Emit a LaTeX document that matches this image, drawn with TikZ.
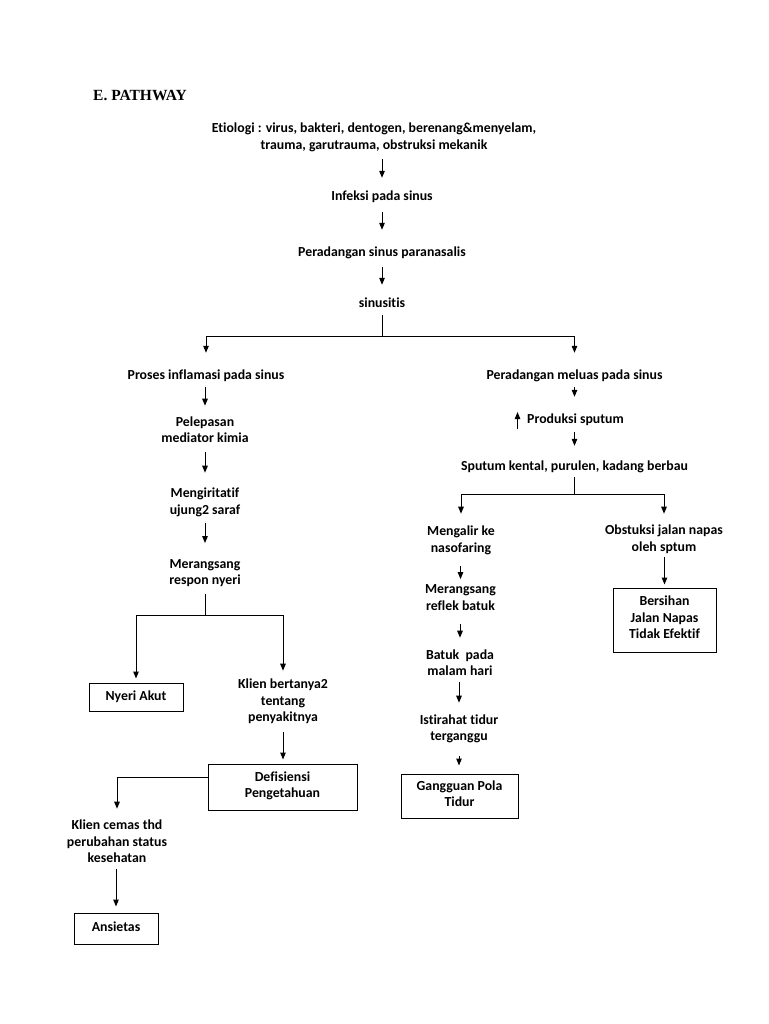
\documentclass[tikz,border=0pt]{standalone}
\usepackage{fontspec}
\setmainfont{Carlito}[Ligatures=NoCommon,RawFeature=-liga]
\newfontfamily\titlefont{Liberation Serif}
\usetikzlibrary{arrows.meta}
\begin{document}
\begin{tikzpicture}[x=1pt,y=-1pt,
  txt/.style={font=\bfseries\fontsize{13.8}{16.5}\selectfont, align=center, inner sep=0pt,
    execute at begin node=\strut, execute at end node=\strut},
  boxn/.style={txt, draw, line width=1pt},
  arr/.style={line width=1pt, -{Triangle[length=7pt,width=5.5pt]}},
  titlestyle/.style={font=\titlefont\bfseries\fontsize{15.5}{18}\selectfont, inner sep=0pt}]
\useasboundingbox (0,0) rectangle (768,1024);

% title
\node[titlestyle, anchor=west] (title) at (93,96) {E. PATHWAY};

% main column
\node[txt] (eti) at (374,138.5) {Etiologi : virus, bakteri, dentogen, berenang\&menyelam,\\trauma, garutrauma, obstruksi mekanik};
\node[txt] (inf) at (382,197) {Infeksi pada sinus};
\node[txt] (per) at (382,253) {Peradangan sinus paranasalis};
\node[txt] (sin) at (382,304) {sinusitis};
\coordinate (j1) at (382,336);

% left column
\node[txt] (pro) at (206,376) {Proses inflamasi pada sinus};
\node[txt] (pel) at (205,432) {Pelepasan\\mediator kimia};
\node[txt] (men) at (205,503.5) {Mengiritatif\\ujung2 saraf};
\node[txt] (mer) at (205,574.5) {Merangsang\\respon nyeri};
\coordinate (j2) at (205,615);
\node[boxn, minimum width=94pt, minimum height=28pt] (nye) at (136,697) {Nyeri Akut};
\node[txt] (kli) at (283,703) {Klien bertanya2\\tentang\\penyakitnya};
\node[boxn, minimum width=149pt, minimum height=46pt] (def) at (282.5,787) {Defisiensi\\Pengetahuan};
\node[txt] (cem) at (117,844) {Klien cemas thd\\perubahan status\\kesehatan};
\node[boxn, minimum width=84pt, minimum height=31pt] (ans) at (116,928.5) {Ansietas};

% right column
\node[txt] (mel) at (574.5,376) {Peradangan meluas pada sinus};
\node[txt] (prd) at (575.5,420) {Produksi sputum};
\node[txt] (spu) at (574.5,467) {Sputum kental, purulen, kadang berbau};
\coordinate (j3) at (574.5,494);
\node[txt] (mga) at (461,541.5) {Mengalir ke\\nasofaring};
\node[txt] (obs) at (664,540.5) {Obstuksi jalan napas\\oleh sptum};
\node[txt] (mrg) at (460.5,600) {Merangsang\\reflek batuk};
\node[txt] (bat) at (460,665) {Batuk\ \ pada\\malam hari};
\node[txt] (ist) at (459,730) {Istirahat tidur\\terganggu};
\node[boxn, minimum width=117pt, minimum height=44pt] (gan) at (459.5,796) {Gangguan Pola\\Tidur};
\node[boxn, minimum width=103pt, minimum height=64pt] (ber) at (664.5,620) {Bersihan\\Jalan Napas\\Tidak Efektif};

% up arrow before "Produksi sputum"
\draw[arr] ([xshift=-9.5pt,yshift=-1pt]prd.south west) -- ([xshift=-9.5pt,yshift=-0.5pt]prd.north west);

% connectors main
\draw[arr, shorten <=5pt, shorten >=10.75pt] (eti.south -| inf.north) -- (inf.north);
\draw[arr, shorten <=6.75pt, shorten >=14.75pt] (inf.south) -- (per.north);
\draw[arr, shorten <=5.75pt, shorten >=10.75pt] (per.south) -- (sin.north);
\draw[arr, shorten <=2.75pt, shorten >=14.75pt] (sin.south) |- (j1) -| (pro.north);
\draw[arr, shorten <=2.75pt, shorten >=14.75pt] (sin.south) |- (j1) -| (mel.north);

% connectors left
\draw[arr, shorten <=2.75pt, shorten >=10.5pt] (pro.south -| pel.north) -- (pel.north);
\draw[arr, shorten <=4.5pt, shorten >=15pt] (pel.south) -- (men.north);
\draw[arr, shorten <=4pt, shorten >=16pt] (men.south) -- (mer.north);
\draw[arr, shorten <=4pt, shorten >=4pt] (mer.south) |- (j2) -| (nye.north);
\draw[arr, shorten <=4pt, shorten >=8.25pt] (mer.south) |- (j2) -| (kli.north);
\draw[arr, shorten <=5.25pt, shorten >=4pt] (kli.south) -- (kli.south |- def.north);
\draw[arr, shorten >=11.25pt] ([yshift=10pt]def.west) -| (cem.north);
\draw[arr, shorten <=1.25pt, shorten >=6pt] (cem.south -| ans.north) -- (ans.north);

% connectors right
\draw[arr, shorten <=2.75pt, shorten >=14.75pt] (mel.south) -- (mel.south |- prd.north);
\draw[arr, shorten <=3.75pt, shorten >=12.75pt] (prd.south -| spu.north) -- (spu.north);
\draw[arr, shorten <=1.75pt, shorten >=12pt] (spu.south) |- (j3) -| (mga.north);
\draw[arr, shorten <=1.75pt, shorten >=11pt] (spu.south) |- (j3) -| (obs.north);
\draw[arr, shorten <=9pt, shorten >=5.5pt] (mga.south -| mrg.north) -- (mrg.north);
\draw[arr, shorten <=8.5pt, shorten >=11.5pt] (mrg.south -| bat.north) -- (bat.north);
\draw[arr, shorten <=1.5pt, shorten >=11.5pt] (bat.south -| ist.north) -- (ist.north);
\draw[arr, shorten <=10.5pt, shorten >=8pt] (ist.south) -- (ist.south |- gan.north);
\draw[arr, shorten <=1pt, shorten >=3pt] (obs.south -| ber.north) -- (ber.north);
\end{tikzpicture}
\end{document}
